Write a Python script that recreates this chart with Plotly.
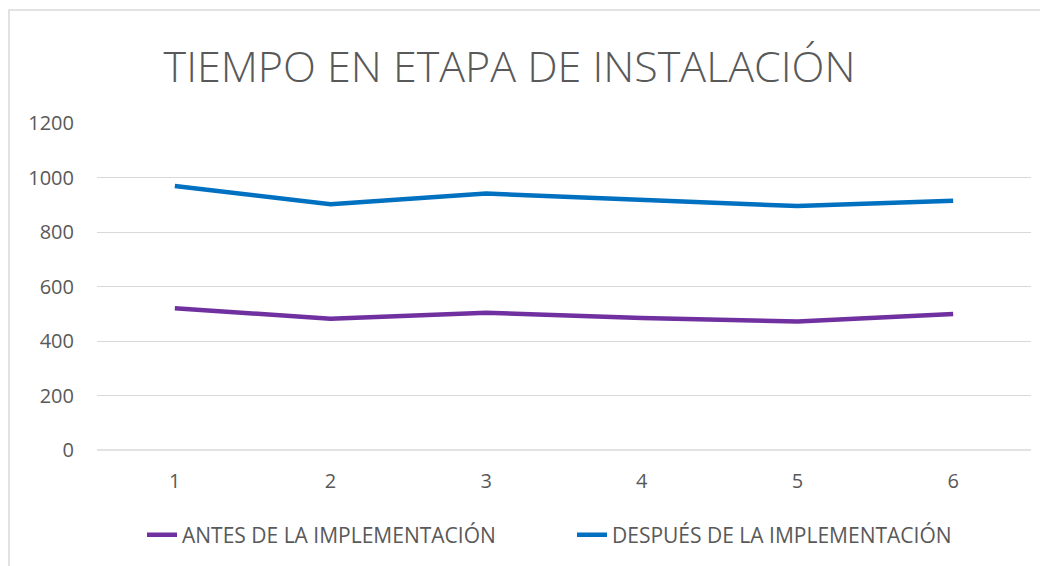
import plotly.graph_objects as go

categories = ["1", "2", "3", "4", "5", "6"]
antes = [520, 482, 504, 484, 472, 499]
despues = [969, 902, 941, 918, 895, 915]
series_names = ["ANTES DE LA IMPLEMENTACIÓN", "DESPUÉS DE LA IMPLEMENTACIÓN"]
y_ticks = [0, 200, 400, 600, 800, 1000, 1200]

FONT = "Open Sans, sans-serif"
GREY = "#595959"

# page body has an 8px margin, so the figure is sized to fit
W, H = 1040, 558
L, R, T, B = 89, 17, 115, 116
PW, PH = W - L - R, H - T - B

fig = go.Figure()
fig.add_trace(go.Scatter(x=categories, y=antes, mode="lines", name=series_names[0],
                         line=dict(color="#7030A0", width=4.5)))
fig.add_trace(go.Scatter(x=categories, y=despues, mode="lines", name=series_names[1],
                         line=dict(color="#0070C0", width=4.5)))

fig.update_layout(
    width=W, height=H,
    paper_bgcolor="white", plot_bgcolor="white",
    margin=dict(l=L, r=R, t=T, b=B, autoexpand=False),
    title=dict(text="TIEMPO EN ETAPA DE INSTALACIÓN", x=501.5 / W, xanchor="center",
               y=1 - 59 / H, yanchor="middle",
               font=dict(family=FONT, size=43, color=GREY, weight=300)),
    xaxis=dict(type="category", range=[-0.5, 5.5], showgrid=False, zeroline=False,
               showline=False, ticks="", tickfont=dict(family=FONT, size=20, color=GREY),
               ticklabelstandoff=17),
    yaxis=dict(range=[0, 1200], tickvals=y_ticks, showgrid=True, gridcolor="#D9D9D9",
               gridwidth=1.3, zeroline=False, showline=False, ticks="",
               tickfont=dict(family=FONT, size=20, color=GREY),
               ticklabelstandoff=22),
    legend=dict(orientation="h", x=(134 - L) / PW, xanchor="left",
                y=(PH - (527 - T)) / PH, yanchor="middle",
                entrywidth=385, entrywidthmode="pixels",
                font=dict(family=FONT, size=21, color=GREY)),
    showlegend=True,
)
fig.add_shape(type="line", xref="paper", yref="paper", x0=0, x1=1, y0=0, y1=0,
              line=dict(color="#D9D9D9", width=1.3))
fig.add_shape(type="rect", xref="paper", yref="paper",
              x0=(1 - L) / PW, x1=1.1, y0=-1, y1=(H - B - 2) / PH,
              line=dict(color="#D9D9D9", width=1.5), fillcolor="rgba(0,0,0,0)", layer="below")
fig.write_html("out.html")
